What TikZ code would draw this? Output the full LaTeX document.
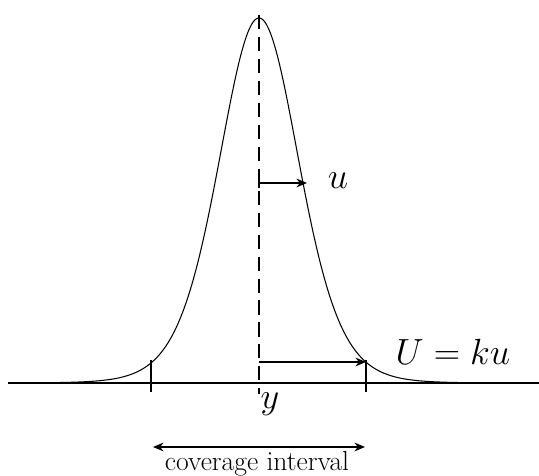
\documentclass[tikz,border=0pt]{standalone}
\usepackage{xcolor}
\usepackage{tikz}
\usetikzlibrary{arrows.meta, positioning}

\begin{document}
\begin{tikzpicture}[x=0.02cm, y=0.02cm,
    axisline/.style={line width=1.2pt},
    meanline/.style={line width=1.1pt, dash pattern=on 8pt off 4.5pt},
    widtharrow/.style={line width=0.8pt, -{Stealth[length=6pt,width=5pt]}},
    bar/.style={line width=0.8pt},
    mathlabel/.style={font=\fontsize{21}{24}\selectfont}]
    \useasboundingbox (0,0) rectangle (539,476);

    % key points
    \coordinate (left) at (8,93);
    \coordinate (right) at (539,93);
    \coordinate (top) at (259,461);
    \coordinate (bottom) at (259,82);
    \coordinate (ustart) at (259,293);
    \coordinate (uend) at (307,293);
    \coordinate (Ustart) at (259,114);
    \coordinate (Uend) at (366,114);
    \coordinate (tickL) at (151,84);
    \coordinate (tickR) at (366,84);

    % bell curve
    \draw[line width=0.6pt] plot[domain=-250:250, samples=200, smooth]
        ({259+\x},{93+365*(1+(\x/129.5)*(\x/129.5))^(-5.5)});

    \draw[axisline] (left) -- (right);
    \draw[meanline] (top) -- (bottom);

    \draw[bar] (tickL) -- ++(0,32);
    \draw[bar] (tickR) -- ++(0,32);

    \draw[widtharrow] (ustart) -- (uend);
    \draw[bar] (ustart) ++(0,-5) -- ++(0,10);
    \draw[widtharrow] (Ustart) -- (Uend);

    \node[mathlabel] (ulabel) at (338,295) {$u$};
    \node[mathlabel] (Ulabel) at (453,124) {$U = ku$};
    \node[mathlabel] (ylabel) at (270,72) {$y$};

    \node (interval) at (257,12) {\fontsize{15.7}{18}\selectfont coverage interval};
    \coordinate (cL) at (153,29);
    \coordinate (cR) at (365,29);
    \draw[line width=0.8pt, {Stealth[length=6pt,width=5pt]}-{Stealth[length=6pt,width=5pt]}] (cL) -- (cR);
\end{tikzpicture}
\end{document}
